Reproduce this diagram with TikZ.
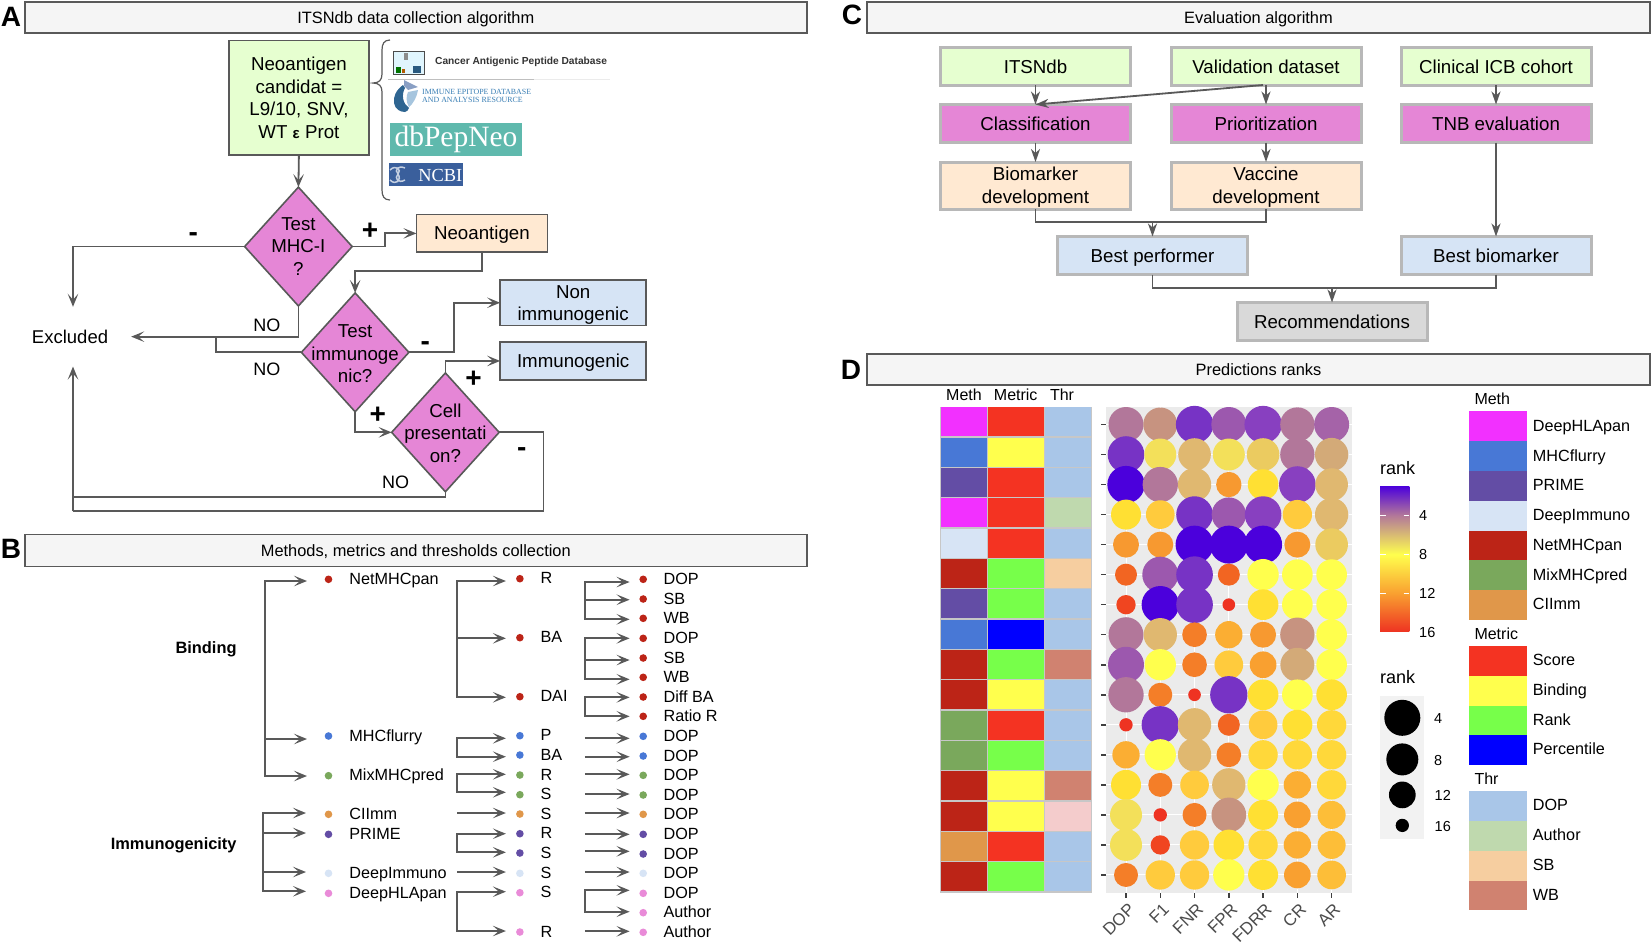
\documentclass[tikz,border=0pt]{standalone}
\usepackage{fontspec}
\setmainfont{Liberation Sans}
\newfontfamily\serifx{Liberation Serif}
\usetikzlibrary{arrows.meta,shapes.geometric,calc}
\definecolor{lnc}{HTML}{595959}
\definecolor{grn}{HTML}{E6FFD0}
\definecolor{pnk}{HTML}{E586D6}
\definecolor{pch}{HTML}{FFE9D2}
\definecolor{blu}{HTML}{D6E4F5}
\definecolor{gry}{HTML}{D9D9D9}
\definecolor{net}{HTML}{BC2417}
\definecolor{fl}{HTML}{4878D6}
\definecolor{mix}{HTML}{7AA85C}
\definecolor{ci}{HTML}{E0974A}
\definecolor{pr}{HTML}{634DA5}
\definecolor{di}{HTML}{D7E4F5}
\definecolor{dh}{HTML}{F230FF}
\definecolor{dhd}{HTML}{E98BD8}
\definecolor{sco}{HTML}{F43322}
\definecolor{bnd}{HTML}{FFFF4D}
\definecolor{rnk}{HTML}{77FF4A}
\definecolor{pct}{HTML}{0000FF}
\definecolor{dop}{HTML}{A9C6E8}
\definecolor{aut}{HTML}{BFD9AE}
\definecolor{sbc}{HTML}{F6CEA0}
\definecolor{wbc}{HTML}{D08270}
\definecolor{lpk}{HTML}{F4CCCC}
\definecolor{cB}{HTML}{4B00DC}
\definecolor{cP}{HTML}{7733C5}
\definecolor{cQ}{HTML}{8840C0}
\definecolor{cM}{HTML}{9C58AE}
\definecolor{cN}{HTML}{A563A8}
\definecolor{cR}{HTML}{B2779A}
\definecolor{cS}{HTML}{C79380}
\definecolor{cT}{HTML}{D3AA78}
\definecolor{cU}{HTML}{E0B870}
\definecolor{cV}{HTML}{EBCB60}
\definecolor{cW}{HTML}{F3E05A}
\definecolor{cY}{HTML}{FFFF4D}
\definecolor{cX}{HTML}{FFE033}
\definecolor{cZ}{HTML}{FFD83A}
\definecolor{cK}{HTML}{FFCB3D}
\definecolor{cJ}{HTML}{FDBE38}
\definecolor{cI}{HTML}{FBAE33}
\definecolor{cH}{HTML}{F9A030}
\definecolor{cG}{HTML}{F79930}
\definecolor{cF}{HTML}{F47E28}
\definecolor{cE}{HTML}{F26522}
\definecolor{cD}{HTML}{F04520}
\definecolor{cC}{HTML}{EE3322}
\definecolor{dbpc}{HTML}{5FB9AD}
\definecolor{ncbc}{HTML}{3A5F9C}
\definecolor{iedc}{HTML}{3A7FB5}
\pgfdeclareverticalshading{rankbar}{100bp}{
 color(0bp)=(cC); color(25bp)=(cC); color(38.2bp)=(cH); color(51.5bp)=(cY); color(65bp)=(cR); color(75bp)=(cB); color(100bp)=(cB)}
\newcommand{\fsz}[1]{\fontsize{#1}{#1}\selectfont}
\newcommand{\vb}{\rule[-3pt]{0pt}{20pt}}
\tikzset{
 x=1pt,y=-1pt,
 ln/.style={draw=lnc,line width=1.8pt},
 arr/.style={ln,-{Stealth[length=13pt,width=10.5pt,inset=6pt]}},
 arrc/.style={ln,-{Stealth[length=13pt,width=9pt,inset=4pt]}},
 titlebox/.style={draw=lnc,line width=1.8pt,fill=black!4,inner sep=0,outer sep=0,text height=11.9pt,text depth=0pt,font=\fsz{16.4}},
 letter/.style={inner sep=0,font=\bfseries\fsz{28}},
 abox/.style={draw=lnc,line width=1.6pt,inner sep=0,outer sep=0,align=center,font=\fontsize{18.7}{22.5}\selectfont},
 cbox/.style={draw=black!28,line width=3pt,inner sep=0,outer sep=0,minimum width=190pt,align=center,font=\fontsize{18.7}{22.5}\selectfont},
 dia/.style={diamond,draw=lnc,line width=1.6pt,fill=pnk,inner sep=0,outer sep=0,minimum width=107.5pt,minimum height=118.8pt},
 ftx/.style={inner sep=0,align=center,font=\fontsize{18.7}{22.5}\selectfont},
 sym/.style={inner sep=0,font=\bfseries\fsz{28}},
 no/.style={inner sep=0,text height=13pt,text depth=0pt,font=\fsz{18}},
 dot/.style={circle,inner sep=0,outer sep=0,minimum size=7.6pt},
 bl/.style={anchor=west,inner sep=0,text height=11.7pt,text depth=0pt,font=\fsz{16.2}},
 bb/.style={anchor=east,inner sep=0,text height=11.8pt,text depth=0pt,font=\bfseries\fsz{16.4}},
 hd/.style={inner sep=0,text height=11.5pt,text depth=0pt,font=\fsz{16}},
 hdl/.style={anchor=west,inner sep=0,text height=11.5pt,text depth=0pt,font=\fsz{16}},
 lg/.style={anchor=west,inner sep=0,text height=11.7pt,text depth=0pt,font=\fsz{16.2}},
 sm/.style={anchor=west,inner sep=0,text height=10.4pt,text depth=0pt,font=\fsz{14.5}},
 rk/.style={anchor=west,inner sep=0,text height=9.4pt,text depth=0pt,font=\fsz{18}},
 xl/.style={rotate=45,anchor=north east,inner sep=0,text=black!70,font=\fsz{17}},
}
\begin{document}
\begin{tikzpicture}
\useasboundingbox[fill=white] (0,0) rectangle (1651,943);
% ---------- titles
\node[titlebox,minimum width=782pt,minimum height=31pt] (tA) at (415.8,17.5) {ITSNdb data collection algorithm};
\node[titlebox,minimum width=782pt,minimum height=32pt] (tB) at (415.8,550.5) {Methods, metrics and thresholds collection};
\node[titlebox,minimum width=783pt,minimum height=31pt] (tC) at (1258.5,17.5) {Evaluation algorithm};
\node[titlebox,minimum width=783pt,minimum height=31pt] (tD) at (1258.5,369.5) {Predictions ranks};
\node[letter] (lA) at (11,17) {A};
\node[letter] (lB) at (11,549) {B};
\node[letter] (lC) at (852,15) {C};
\node[letter] (lD) at (851,369.5) {D};
% ---------- panel A
\begin{scope}[x=.9865pt,y=-1.0125pt]
\node[abox,fill=grn,minimum width=140pt,minimum height=114.7pt] (cand) at (303,96.5) {\vb Neoantigen\\candidat =\\L9/10, SNV,\\WT {\bfseries\fsz{15}ε} Prot\vb};
\node[dia] (d1) at (302.5,243.5) {};
\node[ftx] (d1t) at ([yshift=1pt]d1.center) {\vb Test\\MHC-I\\?\vb};
\node[abox,fill=pch,minimum width=131pt,minimum height=37.5pt] (neo) at (488.5,230.5) {\vb Neoantigen\vb};
\node[dia] (d2) at (360,348) {};
\node[ftx] (d2t) at ([yshift=-.7pt]d2.center) {\vb Test\\immunoge\\nic?\vb};
\node[abox,fill=blu,minimum width=146pt,minimum height=45.7pt] (non) at (581,299) {\vb Non\\immunogenic\vb};
\node[abox,fill=blu,minimum width=146pt,minimum height=37.5pt] (imm) at (581,356.5) {\vb Immunogenic\vb};
\node[dia] (d3) at (451.5,427) {};
\node[ftx] (d3t) at ([yshift=-.5pt]d3.center) {\vb Cell\\presentati\\on?\vb};
\node[no,font=\fsz{18.5}] (excl) at (71,333) {Excluded};
\node[no] (no1) at (270.5,321) {NO};
\node[no] (no2) at (270.5,364) {NO};
\node[no] (no3) at (401,476.5) {NO};
\node[sym] (p1) at (375,228) {+};
\node[sym] (p2) at (480,375) {+};
\node[sym] (p3) at (383,410) {+};
\node[sym] (m1s) at (196,234) {-};
\node[sym] (m2s) at (431,342) {-};
\node[sym] (m3s) at (529,446) {-};
\coordinate (j1) at (390,243.5);
\coordinate (exT) at (74,303);
\coordinate (exR) at (133,332.5);
\coordinate (j2) at (420,268);
\coordinate (j3) at (218.6,332.5);
\coordinate (j4) at (460,348);
\coordinate (j5) at (74,490.5);
\coordinate (j6) at (551,460);
\coordinate (j7) at (74,505);
\coordinate (exB) at (74,362);
\draw[arr] (cand.south) -- (d1.north);
\draw[arr] (d1.east) -- (j1) |- (neo.west);
\draw[arr] (d1.west) -| (exT);
\draw[arr] (d1.south) |- (exR);
\draw[arr] (neo.south) |- (j2) -| (d2.north);
\draw[ln] (d2.west) -| (j3);
\draw[arr] (d2.east) -- (j4) |- (non.west);
\draw[arr] (d2.south) |- (d3.west);
\draw[arr] (d3.north) |- (imm.west);
\draw[ln] (d3.south) |- (j5);
\draw[ln] (d3.east) -| (j6) |- (j7);
\draw[arr] (j7) -- (exB);
\end{scope}
% brace and logos
\draw[lnc,line width=1.2pt] (390,40) .. controls (384,40) and (382,44) .. (382,50) -- (382,74) .. controls (382,80) and (379,83) .. (373,83) .. controls (379,83) and (382,86) .. (382,92) -- (382,190) .. controls (382,196) and (384,200) .. (390,200);
\draw[black!25,line width=.7pt] (388,79) -- (534,79);
\draw[black!8,line width=.7pt] (534,79) -- (610,79);
\draw[black!70,line width=.8pt,fill=cyan!12] (393,51) rectangle (424,74);
\fill[black!45] (404,53) rectangle (408,60);
\fill[green!45!black] (396,67) rectangle (401,73);
\fill[orange!70!black] (402,69) rectangle (405,73);
\fill[iedc!70!black] (413,66) rectangle (421,73);
\node[anchor=west,inner sep=0,font=\bfseries\fsz{10.2},text=black!80] (capd) at (435,62) {Cancer Antigenic Peptide Database};
\fill[iedc!80!black] (403,85) .. controls (396,90) and (393,97) .. (394,103) .. controls (395,109) and (400,112) .. (405,112) .. controls (407,112) and (408,110) .. (409,108) .. controls (403,104) and (401,95) .. (405,88) -- cycle;
\fill[iedc!45] (418,90) .. controls (417,97) and (413,104) .. (409,107) .. controls (406,102) and (406,96) .. (408,92) -- cycle;
\fill[ncbc!60] (404,80) -- (418,87) -- (408,90) -- (404,86) -- cycle;
\node[anchor=west,inner sep=0,align=left,font=\serifx\fontsize{7.9}{8.6}\selectfont,text=iedc] (iedb) at (422,96) {IMMUNE EPITOPE DATABASE\\AND ANALYSIS RESOURCE};
\node[fill=dbpc,minimum width=132pt,minimum height=33pt,inner sep=0,font=\serifx\fsz{29.5},text=white] (dbp) at (456,139) {dbPepNeo};
\node[fill=ncbc,minimum width=74pt,minimum height=23pt,inner sep=0] (ncbi) at (426,174.5) {};
\node[anchor=east,inner sep=0,font=\serifx\fsz{18.4},text=white] (ncbit) at (462.5,175) {NCBI};
\draw[white!70!ncbc,line width=1.5pt] (390,170) .. controls (396,164) and (402,170) .. (398,174) .. controls (394,178) and (398,184) .. (405,180);
\draw[white!70!ncbc,line width=1.5pt] (390,180) .. controls (396,186) and (402,180) .. (398,174) .. controls (394,170) and (398,165) .. (405,168);
% ---------- panel B
\begin{scope}[x=.9865pt]
\coordinate (sA) at (269,0);
\coordinate (sB) at (267,0);
\coordinate (sC) at (463.3,0);
\coordinate (sD) at (592.8,0);
\node[bb] (bind) at (240,647.3) {Binding};
\node[bb] (immg) at (240,843.7) {Immunogenicity};
\foreach \nm/\yy/\cc/\tx in {m1/579.3/net/NetMHCpan,m2/736/fl/MHCflurry,m3/775.7/mix/MixMHCpred,m4/814.3/ci/CIImm,m5/834.3/pr/PRIME,m6/873.3/di/DeepImmuno,m7/893.3/dhd/DeepHLApan}{
 \node[dot,fill=\cc] (\nm) at (333,\yy) {};
 \node[bl] (\nm t) at (354,\yy-.7) {\tx};
}
\foreach \nm/\yy/\cc/\tx in {s1/578.7/net/R,s2/637.7/net/BA,s3/696.7/net/DAI,s4/735.7/fl/P,s5/755/fl/BA,s6/775/mix/R,s7/794.7/mix/S,s8/814/ci/S,s9/833.7/pr/R,s10/853/pr/S,s11/873.3/di/S,s12/892.7/dhd/S,s13/932/dhd/R}{
 \node[dot,fill=\cc] (\nm) at (527,\yy) {};
 \node[bl] (\nm t) at (547.7,\yy-.7) {\tx};
}
\foreach \nm/\yy/\cc/\tx in {t1/579.3/net/DOP,t2/599/net/SB,t3/618.3/net/WB,t4/638.3/net/DOP,t5/658/net/SB,t6/677.3/net/WB,t7/697/net/Diff BA,t8/716.3/net/Ratio R,t9/736.3/fl/DOP,t10/756/fl/DOP,t11/775.3/mix/DOP,t12/795/mix/DOP,t13/814.3/ci/DOP,t14/834.3/pr/DOP,t15/854/pr/DOP,t16/873.3/di/DOP,t17/893.3/dhd/DOP,t18/912.7/dhd/Author,t19/932.3/dhd/Author}{
 \node[dot,fill=\cc] (\nm) at (652,\yy) {};
 \node[bl] (\nm t) at (672.5,\yy-.7) {\tx};
}
\foreach \sp/\dd/\dy/\gp in {sA/m1/-1.7/21.5,sA/m2/-3/21.5,sA/m3/-.3/21.5,sB/m4/1.3/22.5,sB/m5/1.3/22.5,sB/m6/1.3/22.5,sB/m7/2/22.5,
 sC/s1/-2.3/14,sC/s2/-.6/14,sC/s3/-.6/14,sC/s4/-2.6/14,sC/s5/-1.7/14,sC/s6/.7/14,sC/s7/2.4/14,sC/s8/1/14,sC/s9/0/14,sC/s10/.7/14,sC/s11/1.3/14,sC/s12/1/14,sC/s13/1/14,
 sD/t1/-2.7/13.6,sD/t2/-.7/13.6,sD/t3/-1/13.6,sD/t4/0/13.6,sD/t5/-2/13.6,sD/t6/-2/13.6,sD/t7/-.3/13.6,sD/t8/0/13.6,sD/t9/-2/13.6,sD/t10/-.7/13.6,sD/t11/1/13.6,sD/t12/1/13.6,sD/t13/1.3/13.6,sD/t14/0/13.6,sD/t15/2.7/13.6,sD/t16/1.3/13.6,sD/t17/3/13.6,sD/t18/1/13.6,sD/t19/1/13.6}{
 \coordinate (a\dd) at ([yshift=\dy pt]\dd.center);
 \draw[arr,shorten >=\gp pt] (\sp |- a\dd) -- (a\dd);
}
\foreach \sp/\p/\q in {sA/m1/m3,sB/m4/m7,sC/s1/s3,sC/s4/s5,sC/s6/s7,sC/s9/s10,sC/s12/s13,sD/t1/t3,sD/t4/t6,sD/t7/t8,sD/t17/t18}{
 \draw[ln,line cap=rect] (\sp |- a\p) -- (\sp |- a\q);
}
\end{scope}
% ---------- panel C
\foreach \nm/\xx/\yy/\hh/\cc/\tx in {
 its/1035.5/66/38/grn/ITSNdb, val/1266/66/38/grn/Validation dataset, cli/1496/66/38/grn/Clinical ICB cohort,
 cla/1035.5/123.5/38/pnk/Classification, pri/1266/123.5/38/pnk/Prioritization, tnb/1496/123.5/38/pnk/TNB evaluation,
 bio/1035.5/185.5/47/pch/Biomarker\\development, vac/1266/185.5/47/pch/Vaccine\\development,
 bp/1152.5/255.5/38/blu/Best performer, bb/1496/255.5/38/blu/Best biomarker, rec/1332/321.5/38/gry/Recommendations}{
 \node[cbox,fill=\cc,minimum height=\hh pt] (\nm) at (\xx,\yy) {\vb\tx\vb};
}
\coordinate (jc1) at (1152.5,222.3);
\coordinate (jc2) at (1332,288);
\draw[arrc] (its.south) -- (cla.north);
\draw[arrc] (val.south) -- (pri.north);
\draw[arrc] ([xshift=-3pt]val.south) -- (cla.north);
\draw[arrc] (cli.south) -- (tnb.north);
\draw[arrc] (cla.south) -- (bio.north);
\draw[arrc] (pri.south) -- (vac.north);
\draw[arrc] (tnb.south) -- (bb.north);
\draw[ln] (bio.south) |- (jc1);
\draw[ln] (vac.south) |- (jc1);
\draw[arrc] (jc1) -- (bp.north);
\draw[ln] (bp.south) |- (jc2);
\draw[ln] (bb.south) |- (jc2);
\draw[arrc] (jc2) -- (rec.north);
% ---------- panel D heat annotation
\node[hd] (hm) at (964,395) {Meth};
\node[hd] (hr) at (1015.7,395) {Metric};
\node[hd] (ht) at (1062,395) {Thr};
\fill[black!22] (939.7,406.5) rectangle (1092.3,893.4);
\foreach \aa/\bb/\cc [count=\i from 0] in {dh/sco/dop,fl/bnd/dop,pr/sco/dop,dh/sco/aut,di/sco/dop,net/rnk/sbc,pr/rnk/dop,fl/pct/dop,net/rnk/wbc,net/bnd/dop,mix/sco/dop,mix/rnk/dop,net/bnd/wbc,net/bnd/lpk,ci/sco/dop,net/rnk/dop}{
 \fill[\aa] (940.7,407.3+30.34*\i) rectangle (987.3,407.3+30.34*\i+29);
 \fill[\bb] (988.3,407.3+30.34*\i) rectangle (1043.7,407.3+30.34*\i+29);
 \fill[\cc] (1044.6,407.3+30.34*\i) rectangle (1091.3,407.3+30.34*\i+29);
}
% dot panel
\fill[black!8] (1105.7,407.3) rectangle (1352,892.7);
\foreach \i in {0,...,15}{
 \draw[white,line width=1pt] (1105.7,424.5+30.03*\i) -- (1352,424.5+30.03*\i);
 \draw[black!75,line width=1.5pt] (1101,424.5+30.03*\i) -- (1105.5,424.5+30.03*\i);
}
\foreach \j/\lb in {0/DOP,1/F1,2/FNR,3/FPR,4/FDRR,5/CR,6/AR}{
 \draw[white,line width=1pt] (1126+34.27*\j,407.3) -- (1126+34.27*\j,892.7);
 \draw[black!75,line width=1.5pt] (1126+34.27*\j,893) -- (1126+34.27*\j,897.5);
 \node[xl] (x\j) at (1127.5+34.27*\j,902) {\lb};
}
\foreach \rw [count=\i from 0] in {
 {105/cR,102/cS,112/cP,105/cM,112/cQ,103/cR,105/cN},
 {110/cP,96/cW,98/cU,96/cW,98/cV,103/cR,100/cT},
 {112/cB,106/cR,100/cU,76/cG,92/cX,110/cQ,98/cU},
 {90/cX,86/cK,110/cP,103/cM,110/cQ,88/cK,100/cU},
 {78/cG,78/cG,114/cB,114/cB,114/cB,78/cG,98/cV},
 {66/cE,108/cM,110/cP,66/cE,94/cY,92/cY,92/cY},
 {58/cD,112/cB,110/cP,38/cC,92/cX,92/cY,92/cY},
 {105/cR,100/cU,74/cF,82/cI,78/cG,103/cS,92/cY},
 {108/cM,94/cY,74/cF,86/cK,80/cH,102/cT,92/cY},
 {106/cR,72/cF,38/cC,112/cP,92/cX,92/cY,92/cX},
 {40/cC,112/cP,100/cU,66/cE,86/cK,90/cX,88/cZ},
 {82/cI,94/cY,100/cU,74/cF,88/cZ,88/cZ,88/cZ},
 {90/cX,72/cF,86/cK,100/cU,94/cY,82/cI,88/cZ},
 {96/cW,40/cC,72/cF,104/cS,90/cX,80/cH,84/cJ},
 {96/cW,58/cD,88/cK,92/cX,88/cZ,82/cI,84/cJ},
 {72/cF,88/cK,88/cK,94/cY,90/cX,80/cH,86/cJ}}{
 \foreach \dd/\cc [count=\j from 0] in \rw {
  \fill[\cc] (1126+34.27*\j,424.5+30.03*\i) circle[radius=\dd/6*1pt];
 }
}
% colour bar legend
\node[rk] (rk1) at (1380,469.5) {rank};
\shade[shading=rankbar] (1380,486) rectangle (1409.3,631.7);
\foreach \yy/\lb in {515.5/4,554.6/8,593.4/12,632.5/16}{
 \draw[white,line width=.7pt] (1380,\yy) -- (1386,\yy);
 \draw[white,line width=.7pt] (1403.5,\yy) -- (1409.3,\yy);
 \node[sm] (cb\lb) at (1419,\yy) {\lb};
}
% size legend
\node[rk] (rk2) at (1380,679) {rank};
\fill[black!5] (1380,695.6) rectangle (1424,839);
\foreach \yy/\dd/\lb/\xx in {717.8/36/4/1434,759.4/32/8/1434,794.9/26.7/12/1434.5,825.4/13.3/16/1434.5}{
 \fill[black] (1402.3,\yy) circle[radius=\dd/2*1pt];
 \node[sm] (sz\lb) at (\xx,\yy+.5) {\lb};
}
% swatch legends
\node[hdl] (lm) at (1474.3,399) {Meth};
\foreach \yy/\cc/\lb in {411.2/dh/DeepHLApan,441/fl/MHCflurry,470.7/pr/PRIME,500.8/di/DeepImmuno,530.6/net/NetMHCpan,560/mix/MixMHCpred,589.8/ci/CIImm}{
 \fill[\cc] (1469,\yy) rectangle (1526.7,\yy+29.8);
 \node[lg] (lg\lb) at (1532.7,\yy+14.3) {\lb};
}
\node[hdl] (lr) at (1474.3,633.5) {Metric};
\foreach \yy/\cc/\lb in {646/sco/Score,675.8/bnd/Binding,705.6/rnk/Rank,735/pct/Percentile}{
 \fill[\cc] (1469,\yy) rectangle (1526.7,\yy+29.8);
 \node[lg] (lg\lb) at (1532.7,\yy+13.8) {\lb};
}
\node[hdl] (lt) at (1474.3,778.8) {Thr};
\foreach \yy/\cc/\lb in {791.3/dop/DOP,820.7/aut/Author,850.8/sbc/SB,880.6/wbc/WB}{
 \fill[\cc] (1469,\yy) rectangle (1526.7,\yy+29.8);
 \node[lg] (lgt\lb) at (1532.7,\yy+13.8) {\lb};
}
\end{tikzpicture}
\end{document}
